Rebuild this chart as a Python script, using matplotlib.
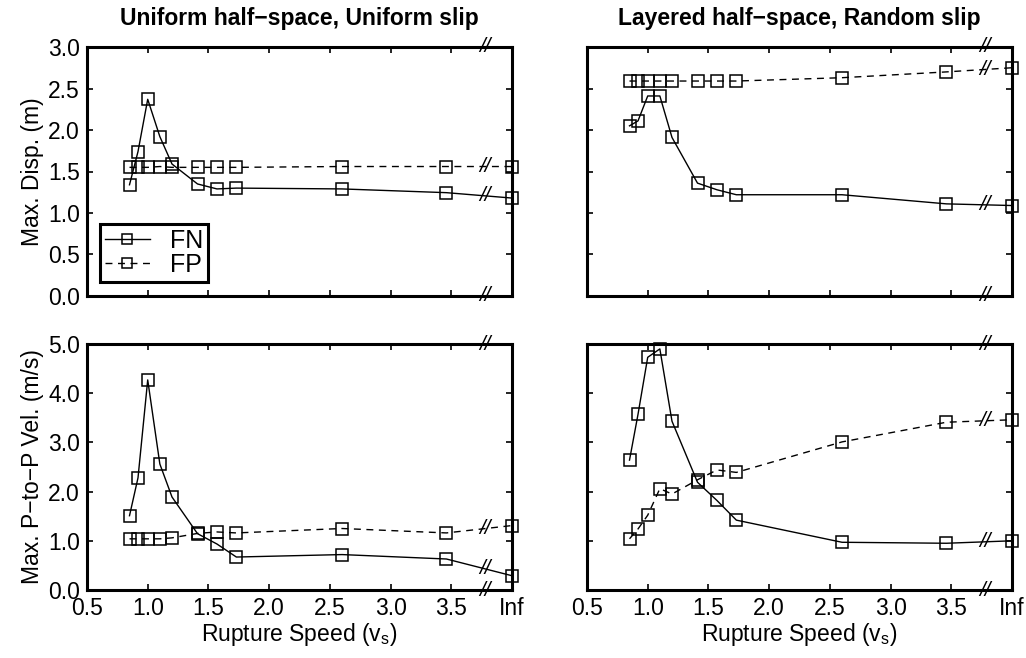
import numpy as np
import matplotlib
matplotlib.use('Agg')
import matplotlib.pyplot as plt

plt.rcParams['font.family'] = ['Liberation Sans', 'DejaVu Sans']
plt.rcParams['mathtext.fontset'] = 'custom'
plt.rcParams['mathtext.rm'] = 'Liberation Sans'

# velocidades de ruptura (Inf se dibuja en x = 4.0)
vel = [0.85, 0.92, 1.0, 1.1, 1.2, 1.41, 1.57, 1.73, 2.6, 3.46, 4.0]
x_ticks = [0.5, 1.0, 1.5, 2.0, 2.5, 3.0, 3.5, 4.0]
x_labels = ['0.5', '1.0', '1.5', '2.0', '2.5', '3.0', '3.5', 'Inf']
BREAK_X = 3.78

# desplazamiento maximo (m)
disp_uni_fn = [1.34, 1.74, 2.37, 1.92, 1.59, 1.35, 1.29, 1.30, 1.29, 1.245, 1.18]
disp_uni_fp = [1.55, 1.55, 1.55, 1.56, 1.55, 1.55, 1.55, 1.55, 1.56, 1.56, 1.56]
disp_lay_fn = [2.05, 2.11, 2.41, 2.41, 1.91, 1.36, 1.28, 1.22, 1.22, 1.11, 1.09]
disp_lay_fp = [2.59, 2.59, 2.59, 2.59, 2.59, 2.59, 2.59, 2.59, 2.63, 2.70, 2.75]

# velocidad pico a pico maxima (m/s)
vel_uni_fn = [1.51, 2.28, 4.27, 2.56, 1.89, 1.145, 0.935, 0.67, 0.72, 0.63, 0.29]
vel_uni_fp = [1.04, 1.04, 1.04, 1.04, 1.06, 1.15, 1.18, 1.16, 1.25, 1.16, 1.31]
vel_lay_fn = [2.64, 3.57, 4.73, 4.90, 3.43, 2.19, 1.82, 1.42, 0.97, 0.95, 1.00]
vel_lay_fp = [1.04, 1.24, 1.52, 2.06, 1.95, 2.24, 2.44, 2.39, 3.01, 3.41, 3.46]

titulos = ['Uniform half\u2212space, Uniform slip', 'Layered half\u2212space, Random slip']

W, H = 1026, 658
fig = plt.figure(figsize=(W / 100, H / 100), dpi=100)


def panel(rect, fn, fp, ymax, ystep, bottom_row, left_col):
    ax = fig.add_axes(rect)
    ax.plot(vel, fn, '-', color='k', lw=1.0, marker='s', ms=8, mfc='none',
            mec='k', mew=1.1, clip_on=False, label='FN')
    ax.plot(vel, fp, '--', color='k', lw=1.0, marker='s', ms=8, mfc='none',
            mec='k', mew=1.1, clip_on=False, dashes=(5, 4), label='FP')
    ax.set_xlim(0.5, 4.0)
    ax.set_ylim(0, ymax)
    ax.set_xticks(x_ticks)
    yt = np.arange(0, ymax + 1e-9, ystep)
    ax.set_yticks(yt)
    if bottom_row:
        ax.set_xticklabels(x_labels)
        ax.set_xlabel(r'Rupture Speed (v$_\mathrm{s}$)', fontsize=16.5, labelpad=1)
    else:
        ax.set_xticklabels([])
    if left_col:
        ax.set_yticklabels(['%.1f' % v for v in yt])
    else:
        ax.set_yticklabels([])
    ax.tick_params(direction='in', length=4, width=1.2, top=True, right=True,
                   labelsize=16.5, pad=5)
    for s in ax.spines.values():
        s.set_linewidth(2.2)
    # marcas de corte del eje
    for yb in (0, ymax):
        ax.text(BREAK_X, yb, '//', ha='center', va='center', fontsize=15,
                style='italic', clip_on=False)
    for serie in (fn, fp):
        yb = np.interp(BREAK_X, vel[-2:], serie[-2:])
        ax.text(BREAK_X, yb, '//', ha='center', va='center', fontsize=15,
                style='italic', clip_on=False)
    return ax


lx = [87 / W, 587 / W]
aw = 425 / W
top_rect_y = 1 - 296 / H
top_h = 249 / H
bot_rect_y = 1 - 590 / H
bot_h = 246 / H

ax1 = panel([lx[0], top_rect_y, aw, top_h], disp_uni_fn, disp_uni_fp, 3.0, 0.5, False, True)
ax2 = panel([lx[1], top_rect_y, aw, top_h], disp_lay_fn, disp_lay_fp, 3.0, 0.5, False, False)
ax3 = panel([lx[0], bot_rect_y, aw, bot_h], vel_uni_fn, vel_uni_fp, 5.0, 1.0, True, True)
ax4 = panel([lx[1], bot_rect_y, aw, bot_h], vel_lay_fn, vel_lay_fp, 5.0, 1.0, True, False)

ax1.set_title(titulos[0], fontsize=16.5, fontweight='bold', pad=16)
ax2.set_title(titulos[1], fontsize=16.5, fontweight='bold', pad=16)
ax1.set_ylabel('Max. Disp. (m)', fontsize=16.5, labelpad=3)
ax3.set_ylabel('Max. P\u2212to\u2212P Vel. (m/s)', fontsize=16.5, labelpad=3)

leg = ax1.legend(loc='lower left', bbox_to_anchor=(0.03, 0.056), fontsize=18,
                 fancybox=False, framealpha=1, edgecolor='k', handlelength=1.8,
                 borderpad=0.2, labelspacing=0.02, handletextpad=0.8,
                 borderaxespad=0, markerscale=0.85)
leg.get_frame().set_linewidth(2.2)

fig.savefig('out.png', dpi=100)
plt.close(fig)
